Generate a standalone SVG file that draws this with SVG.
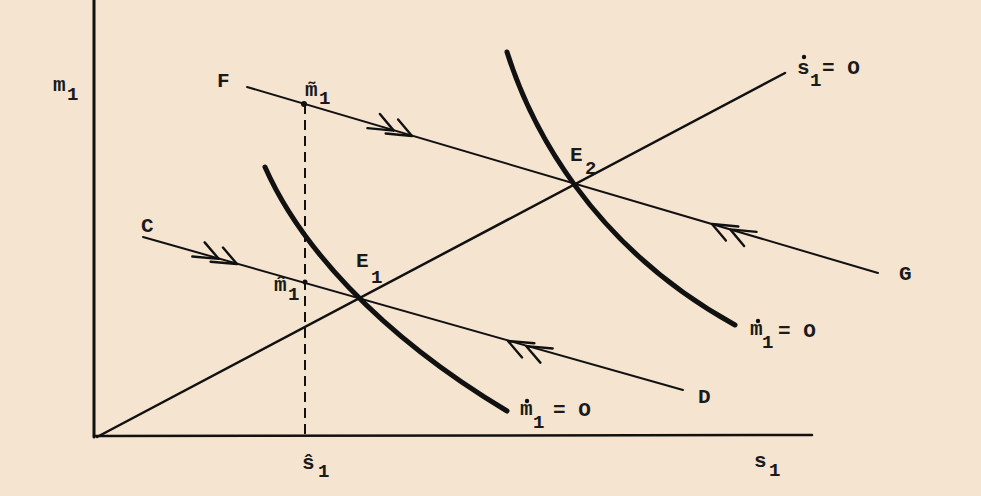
<svg xmlns="http://www.w3.org/2000/svg" width="981" height="496" viewBox="0 0 981 496">
<defs>
<style>
.t{font-family:"Liberation Mono","DejaVu Sans Mono",monospace;font-weight:bold;fill:#1a1a1a;font-size:21px}
.s{font-family:"Liberation Mono","DejaVu Sans Mono",monospace;font-weight:bold;fill:#1a1a1a;font-size:19px}
.ln{stroke:#111;fill:none;stroke-linecap:round}
.cv{stroke:#111;fill:none;stroke-width:5;stroke-linecap:round}
.ar{stroke:#111;fill:none;stroke-width:2.4;stroke-linecap:round}
</style>
<g id="chev"><path class="ar" d="M0,0 L-18,-12 M0,0 L-26,5 M-19,0 L-37,-12 M-19,0 L-45,5"/></g>
</defs>
<rect width="981" height="496" fill="#F5E4CF"/>
<g id="axes">
<line class="ln" x1="94" y1="0" x2="94" y2="437" stroke-width="3"/>
<line class="ln" x1="94" y1="436" x2="812" y2="435" stroke-width="2.5"/>
</g>
<g id="connectors">
<line id="s-null" class="ln" x1="97" y1="437" x2="785" y2="73" stroke-width="2.5"/>
<line id="FG" class="ln" x1="247" y1="87" x2="878" y2="273" stroke-width="2"/>
<line id="CD" class="ln" x1="143" y1="237" x2="683" y2="390" stroke-width="2"/>
<line id="dash" x1="305" y1="104" x2="305" y2="437" stroke="#111" stroke-width="2" stroke-dasharray="10,6"/>
<path id="m-null-1" class="cv" d="M265,167 C298,242 375,332 507,411"/>
<path id="m-null-2" class="cv" d="M507,52 C530,125 590,245 735,325"/>
<use href="#chev" transform="translate(412,136) rotate(16.4)"/>
<use href="#chev" transform="translate(712,224) rotate(196.4)"/>
<use href="#chev" transform="translate(237,264) rotate(15.8)"/>
<use href="#chev" transform="translate(508,341) rotate(195.8)"/>
<circle cx="304" cy="104" r="3" fill="#111"/>
<circle cx="305" cy="282" r="2.5" fill="#111"/>
</g>
<g id="labels">
<g id="lbl-m1"><text class="t" x="53" y="91">m</text><text class="s" x="67" y="100">1</text></g>
<g id="lbl-F"><text class="t" x="217" y="87">F</text></g>
<g id="lbl-mtilde"><text class="t" x="305" y="96">m&#x303;</text><text class="s" x="319" y="104">1</text></g>
<g id="lbl-E2"><text class="t" x="570" y="161">E</text><text class="s" x="585" y="174">2</text></g>
<g id="lbl-E1"><text class="t" x="356" y="267">E</text><text class="s" x="371" y="283">1</text></g>
<g id="lbl-C"><text class="t" x="141" y="232">C</text></g>
<g id="lbl-mhat"><text class="t" x="274" y="291">m&#x302;</text><text class="s" x="288" y="300">1</text></g>
<g id="lbl-sdot"><text class="t" x="797" y="74">s</text><circle cx="804" cy="57" r="2.2" fill="#111"/><text class="s" x="810" y="86">1</text><text class="t" x="822" y="74">= O</text></g>
<g id="lbl-mdot2"><text class="t" x="750" y="335">m</text><circle cx="758" cy="321" r="2.2" fill="#111"/><text class="s" x="762" y="348">1</text><text class="t" x="778" y="337">= O</text></g>
<g id="lbl-mdot1"><text class="t" x="520" y="415">m</text><circle cx="527" cy="401" r="2.2" fill="#111"/><text class="s" x="533" y="428">1</text><text class="t" x="553" y="416">= O</text></g>
<g id="lbl-G"><text class="t" x="899" y="280">G</text></g>
<g id="lbl-D"><text class="t" x="698" y="403">D</text></g>
<g id="lbl-s1"><text class="t" x="754" y="467">s</text><text class="s" x="769" y="476">1</text></g>
<g id="lbl-shat"><text class="t" x="302" y="469">s&#x302;</text><text class="s" x="318" y="477">1</text></g>
</g>
</svg>
